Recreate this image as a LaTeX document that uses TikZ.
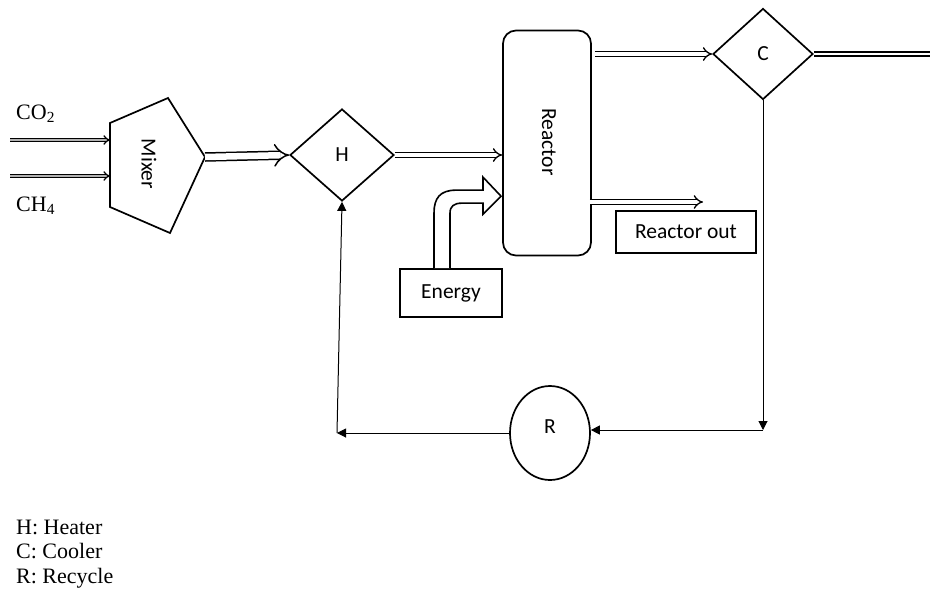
\documentclass[tikz,border=0pt]{standalone}
\usepackage{fontspec}
\setmainfont{Liberation Serif}
\newfontfamily\calfont{Carlito}
\usetikzlibrary{shapes.geometric,arrows.meta,calc}
\begin{document}
\begin{tikzpicture}[x=1pt,y=-1pt]
\useasboundingbox[fill=white] (0,0) rectangle (930,590);
\tikzset{
  outl/.style={draw, line width=1.7pt},
  sfont/.style={font=\calfont\fontsize{21.5}{24}\selectfont},
  serif/.style={font=\fontsize{22}{24}\selectfont, inner sep=0pt},
  pipe/.style={double=white, double distance=3.4pt, line width=1.3pt, -{Implies[scale=1.4]}},
  bigpipe/.style={double=white, double distance=6.5pt, line width=1.5pt, -{Implies[scale=1.2]}},
  thinpipe/.style={double=gray!60, double distance=1.8pt, line width=1.3pt, -{Implies[scale=1.6]}},
  plainpipe/.style={double=white, double distance=2.6pt, line width=1.3pt},
  flow/.style={line width=1pt, -{Triangle[length=9pt,width=9pt]}},
  diam/.style={outl, diamond, inner sep=0pt, sfont},
  boxnode/.style={outl, rectangle, inner sep=0pt, sfont}
}
% Mixer
\coordinate (m1) at (110,123);
\coordinate (m2) at (168,98);
\coordinate (mixR) at (205,157);
\coordinate (m4) at (170,233);
\coordinate (m5) at (110,207);
\draw[line width=1.7pt] (m1) -- (m2) -- (mixR) -- (m4) -- (m5) -- cycle;
\node[sfont, rotate=-90] (mixer) at (149,164) {Mixer};
% inputs
\coordinate (co2s) at (10,140);
\coordinate (co2e) at (110,140);
\coordinate (ch4s) at (10,176);
\coordinate (ch4e) at (110,176);
\draw[thinpipe] (co2s) -- (co2e);
\draw[thinpipe] (ch4s) -- (ch4e);
\node[serif, anchor=base west] (co2) at (16,119) {CO\textsubscript{2}};
\node[serif, anchor=base west] (ch4) at (16,211) {CH\textsubscript{4}};
% Heater
\node[diam, minimum width=104pt, minimum height=92pt] (H) at (342,155) {H};
% Reactor
\node[outl, rounded corners=13pt, minimum width=88pt, minimum height=225pt, inner sep=0pt] (reactor) at (547,143) {};
\node[sfont, rotate=-90] (reactorlbl) at (549,142) {Reactor};
% Cooler
\node[diam, minimum width=100pt, minimum height=91pt] (C) at (763,54) {C};
% Reactor out
\node[boxnode, minimum width=140pt, minimum height=42pt] (rout) at (686,232) {Reactor out};
% Energy
\node[boxnode, minimum width=102pt, minimum height=48pt] (energy) at (451,293) {Energy};
% Recycle
\node[outl, ellipse, minimum width=80pt, minimum height=94pt, inner sep=0pt] (R) at (550,433) {};
\node[sfont] (Rlbl) at (550,427) {R};
% main pipes
\draw[bigpipe] (mixR) -- (H.west);
\draw[pipe] (H.east) -- (H.east -| reactor.west);
\draw[pipe] ([xshift=3pt]reactor.east |- C.west) -- (C.west);
\coordinate (cout) at (930,54);
\draw[plainpipe] (C.east) -- (cout);
\coordinate (routa) at (703,202);
\draw[pipe] ([xshift=-2pt]reactor.east |- routa) -- (routa);
% energy bent arrow
\begin{scope}[shift={(energy.north)}]
\draw[line width=1.6pt, fill=white, line join=miter]
  (-17,0) -- (-17,-55) .. controls (-17,-70) and (-11,-78) .. (5,-78)
  -- (32,-78) -- (32,-91) -- (50,-72) -- (32,-54) -- (32,-65)
  -- (11,-65) .. controls (3,-65) and (-1,-62) .. (-1,-55) -- (-1,0);
\end{scope}
% recycle loop
\coordinate (cr) at (C.south |- 0,430);
\draw[flow] (C.south) -- (cr);
\draw[flow] (cr) -- (R.east |- cr);
\coordinate (hl) at ([xshift=-5pt]H.south |- 0,433);
\draw[flow] (R.west) -- (hl);
\draw[flow] (hl) -- (H.south);
% legend
\node[serif, anchor=base west] (legH) at (16,534) {H: Heater};
\node[serif, anchor=base west] (legC) at (16,558) {C: Cooler};
\node[serif, anchor=base west] (legR) at (16,583) {R: Recycle};
\end{tikzpicture}
\end{document}
